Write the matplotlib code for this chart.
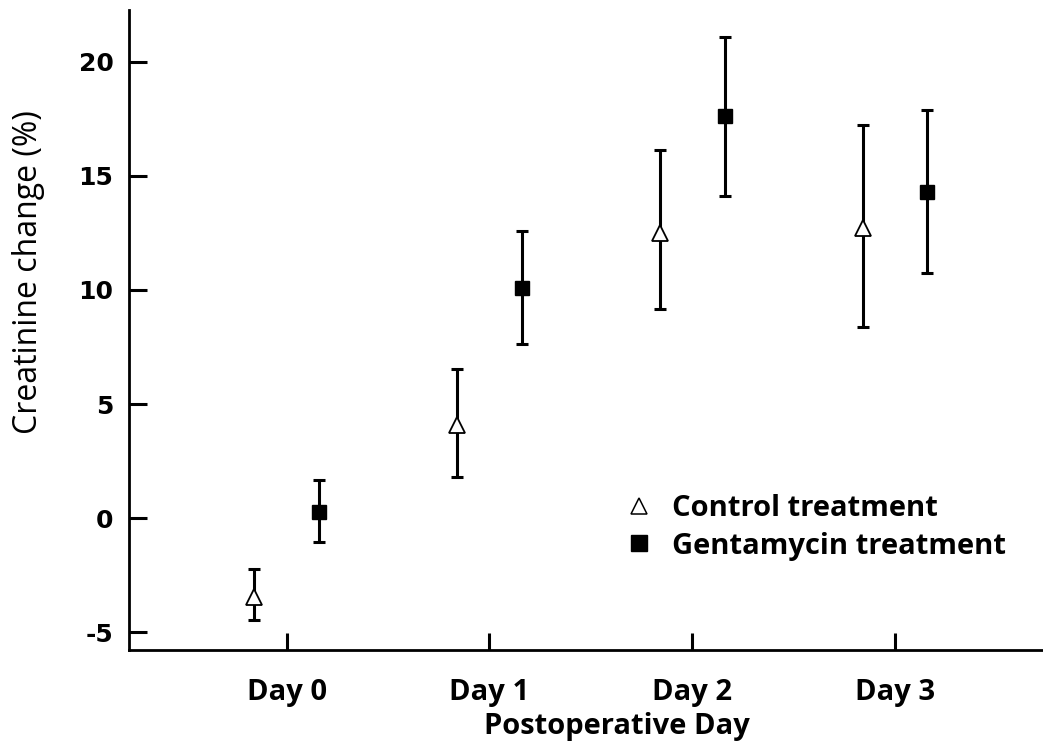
import matplotlib
matplotlib.use("Agg")
import matplotlib.pyplot as plt
from matplotlib.lines import Line2D
import numpy as np

# Dados
days = ["Day 0", "Day 1", "Day 2", "Day 3"]
control_mean = [-3.45, 4.08, 12.5, 12.7]
control_low = [-4.47, 1.81, 9.15, 8.36]
control_high = [-2.21, 6.54, 16.14, 17.24]
genta_mean = [0.28, 10.09, 17.63, 14.31]
genta_low = [-1.04, 7.62, 14.12, 10.76]
genta_high = [1.67, 12.6, 21.1, 17.9]

x = np.arange(len(days))
offset = 0.16

fig = plt.figure(figsize=(10.43, 7.41), dpi=100)
ax = fig.add_axes([0.1234, 0.1228, 0.8766, 0.8637])

c_mean = np.array(control_mean)
c_err = [c_mean - np.array(control_low), np.array(control_high) - c_mean]
g_mean = np.array(genta_mean)
g_err = [g_mean - np.array(genta_low), np.array(genta_high) - g_mean]

ax.errorbar(x - offset, c_mean, yerr=c_err, fmt='none', ecolor='black',
            elinewidth=2.2, capsize=4.5, capthick=2.2, zorder=2)
ax.plot(x - offset, c_mean, linestyle='none', marker='^', markersize=12,
        markerfacecolor='white', markeredgecolor='black', markeredgewidth=1.3, zorder=3)

ax.errorbar(x + offset, g_mean, yerr=g_err, fmt='none', ecolor='black',
            elinewidth=2.2, capsize=4.5, capthick=2.2, zorder=2)
ax.plot(x + offset, g_mean, linestyle='none', marker='s', markersize=10.5,
        markerfacecolor='black', markeredgecolor='black', zorder=3)

ax.set_xlim(-0.779, 3.73)
ax.set_ylim(-5.78, 22.27)

ax.spines['top'].set_visible(False)
ax.spines['right'].set_visible(False)
ax.spines['left'].set_linewidth(2)
ax.spines['bottom'].set_linewidth(2)

font_main = 'Open Sans'

ax.set_xticks(x)
ax.set_xticklabels(days, fontfamily=font_main, fontweight='bold', fontsize=21)
ax.set_yticks([-5, 0, 5, 10, 15, 20])
ax.set_yticklabels(['-5', '0', '5', '10', '15', '20'],
                   fontfamily='DejaVu Sans', fontweight='bold', fontsize=18)
ax.tick_params(axis='x', direction='in', length=12, width=2.2, pad=20)
ax.tick_params(axis='y', direction='in', length=13, width=2.2, pad=11)

ax.set_xlabel("Postoperative Day", fontfamily=font_main, fontweight='bold',
              fontsize=21, labelpad=4)
ax.xaxis.label.set_x(0.534)
ax.set_ylabel("Creatinine change (%)", fontfamily=font_main, fontweight='normal',
              fontsize=23, labelpad=24)
ax.yaxis.label.set_y(0.59)

handles = [
    Line2D([], [], linestyle='none', marker='^', markersize=12,
           markerfacecolor='white', markeredgecolor='black', markeredgewidth=1.1),
    Line2D([], [], linestyle='none', marker='s', markersize=11,
           markerfacecolor='black', markeredgecolor='black'),
]
ax.legend(handles, ["Control treatment", "Gentamycin treatment"],
          loc='upper left', bbox_to_anchor=(0.514, 0.285), frameon=False,
          prop={'family': font_main, 'weight': 'bold', 'size': 21},
          handlelength=1.0, handletextpad=0.6, labelspacing=0.3)

fig.savefig("out.png", dpi=100)
